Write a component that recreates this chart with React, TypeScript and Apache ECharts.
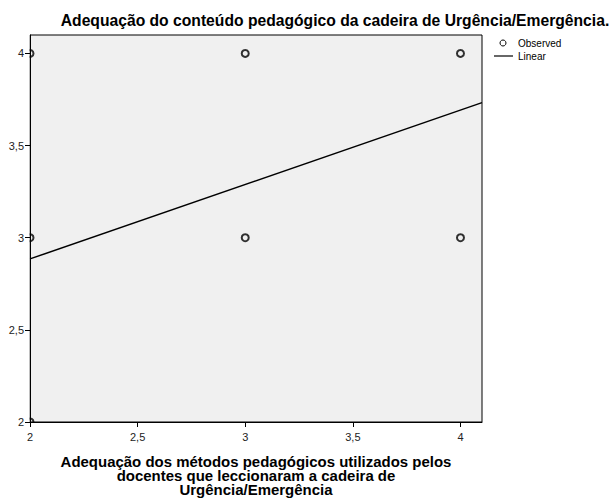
import React, { useEffect, useRef } from "react";
import * as echarts from "echarts";

const titleText = "Adequação do conteúdo pedagógico da cadeira de Urgência/Emergência.";
const xTitleLines = [
  "Adequação dos métodos pedagógicos utilizados pelos",
  "docentes que leccionaram a cadeira de",
  "Urgência/Emergência",
];
const legendNames = ["Observed", "Linear"];
const obsX = [2, 3, 4, 2, 3, 4, 2];
const obsY = [4, 4, 4, 3, 3, 3, 2];
const fitX = [2, 4.1];
const fitY = [2.885, 3.733];
const tickValues = [2, 2.5, 3, 3.5, 4];

const fmt = (v: number) => String(v).replace(".", ",");

export default function App() {
  const ref = useRef<HTMLDivElement>(null);
  useEffect(() => {
    document.body.style.margin = "0";
    if (!ref.current) return;
    const chart = echarts.init(ref.current, undefined, { renderer: "svg" });
    const font = "Arial, 'Liberation Sans', sans-serif";
    chart.setOption({
      animation: false,
      textStyle: { fontFamily: font },
      grid: {
        left: 30,
        top: 35,
        right: 129,
        bottom: 78,
        show: true,
        backgroundColor: "#f0f0f0",
        borderColor: "#000",
        borderWidth: 1,
      },
      xAxis: {
        type: "value",
        min: 2,
        max: 4.1,
        z: 10,
        splitLine: { show: false },
        axisLine: { show: true, lineStyle: { color: "#000", width: 1 } },
        axisTick: { show: true, length: 5, customValues: tickValues, lineStyle: { color: "#000" } },
        axisLabel: {
          customValues: tickValues,
          formatter: (v: number) => fmt(v),
          fontSize: 11,
          color: "#222",
          margin: 9,
        },
      },
      yAxis: {
        type: "value",
        min: 2,
        max: 4.1,
        z: 10,
        splitLine: { show: false },
        axisLine: { show: true, lineStyle: { color: "#000", width: 1 } },
        axisTick: { show: true, length: 5, customValues: tickValues, lineStyle: { color: "#000" } },
        axisLabel: {
          customValues: tickValues,
          formatter: (v: number) => fmt(v),
          fontSize: 11,
          color: "#222",
          margin: 6,
        },
      },
      graphic: [
        { type: "rect", z: 5, shape: { x: 0, y: 0, width: 29.5, height: 500 }, style: { fill: "#fff" } },
        { type: "rect", z: 5, shape: { x: 0, y: 423, width: 611, height: 77 }, style: { fill: "#fff" } },
        {
          type: "text",
          z: 6,
          x: 335,
          y: 20,
          scaleX: 0.98,
          style: {
            text: titleText,
            align: "center",
            verticalAlign: "middle",
            font: `bold 16px ${font}`,
            fill: "#000",
          },
        },
        ...xTitleLines.map((line, i) => ({
          type: "text",
          z: 6,
          x: 256,
          y: 455 + i * 14,
          scaleX: 1.07,
          style: {
            text: line,
            align: "center",
            verticalAlign: "top",
            font: `bold 14px ${font}`,
            fill: "#000",
          },
        })),
        { type: "circle", z: 6, shape: { cx: 503, cy: 43, r: 3 }, style: { fill: "none", stroke: "#000", lineWidth: 1 } },
        { type: "text", z: 6, x: 518, y: 43, style: { text: legendNames[0], font: `10px ${font}`, fill: "#000", verticalAlign: "middle" } },
        { type: "line", z: 6, shape: { x1: 494, y1: 56, x2: 513, y2: 56 }, style: { stroke: "#000", lineWidth: 1.2 } },
        { type: "text", z: 6, x: 518, y: 56, style: { text: legendNames[1], font: `10px ${font}`, fill: "#000", verticalAlign: "middle" } },
      ],
      series: [
        {
          name: legendNames[0],
          type: "scatter",
          symbol: "circle",
          symbolSize: 7,
          itemStyle: { color: "transparent", borderColor: "#000", borderWidth: 2 },
          data: obsX.map((x, i) => [x, obsY[i]]),
        },
        {
          name: legendNames[1],
          type: "line",
          symbol: "none",
          lineStyle: { color: "#000", width: 1.5 },
          data: fitX.map((x, i) => [x, fitY[i]]),
        },
      ],
    });
    return () => chart.dispose();
  }, []);
  return <div ref={ref} style={{ width: 611, height: 500 }} />;
}
